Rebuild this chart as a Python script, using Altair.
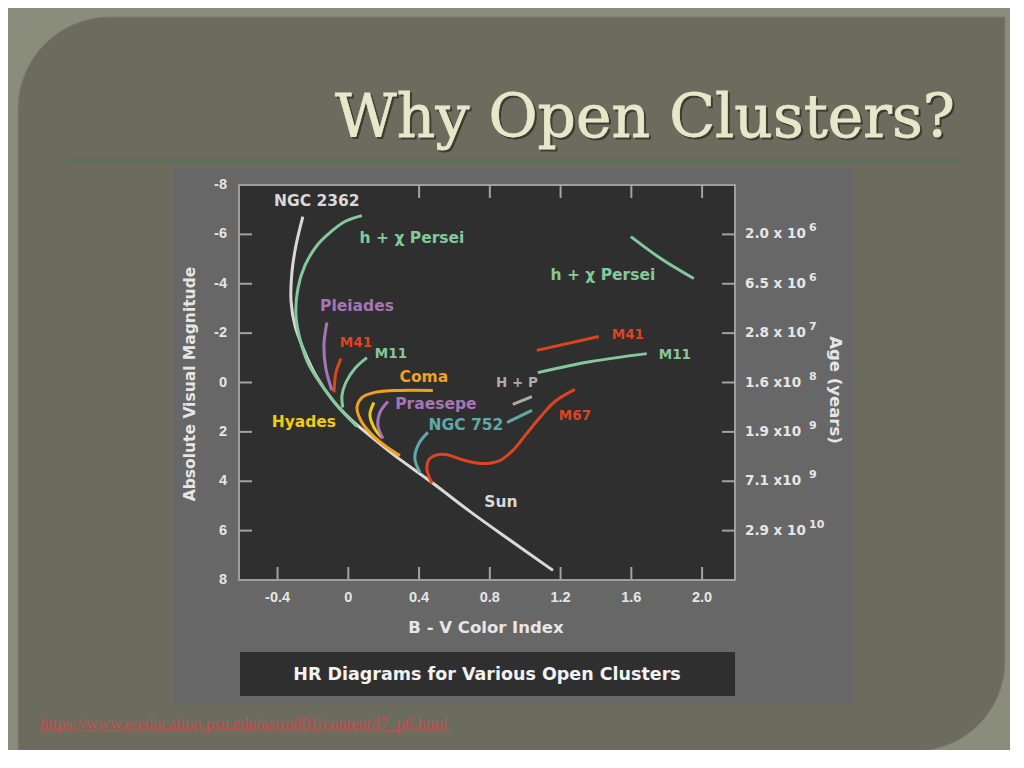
import altair as alt
import pandas as pd

# ---------------- data ----------------
X_TICKS = [-0.4, 0.0, 0.4, 0.8, 1.2, 1.6, 2.0]
X_TICK_LABELS = ["-0.4", "0", "0.4", "0.8", "1.2", "1.6", "2.0"]
X_TOP_TICKS = [0.4, 0.8, 1.2, 1.6, 2.0]
Y_TICKS = [-8, -6, -4, -2, 0, 2, 4, 6, 8]
Y_TICK_LABELS = ["-8", "-6", "-4", "-2", "0", "2", "4", "6", "8"]
Y_TICK_MARKS = [-6, -4, -2, 0, 2, 4, 6]

AGE_M = [-6, -4, -2, 0, 2, 4, 6]
AGE_BASE = ["2.0 x 10", "6.5 x 10", "2.8 x 10", "1.6  x10", "1.9  x10", "7.1 x10", "2.9 x 10"]
AGE_EXP = ["6", "6", "7", "8", "9", "9", "10"]

# curves: B-V colour index (v) and absolute visual magnitude (M)
MS_V = [-0.257, -0.296, -0.319, -0.324, -0.302, -0.251, -0.183, -0.087, 0.009, 0.122, 0.263, 0.473, 0.687, 0.925, 1.157]
MS_M = [-6.72, -5.55, -4.45, -3.32, -2.31, -1.30, -0.28, 0.73, 1.46, 2.15, 2.96, 4.05, 5.22, 6.44, 7.61]
HCP_V = [0.077, -0.019, -0.104, -0.177, -0.245, -0.285, -0.296, -0.274, -0.229, -0.161, -0.064, 0.049]
HCP_M = [-6.76, -6.52, -6.07, -5.55, -4.74, -3.81, -2.71, -1.78, -0.81, 0.0, 0.93, 1.78]
HCPG_V = [1.597, 1.775, 1.953]
HCPG_M = [-5.91, -4.98, -4.21]
PL_V = [-0.121, -0.138, -0.127, -0.093]
PL_M = [-2.43, -1.50, -0.57, 0.32]
M41_V = [-0.042, -0.070, -0.081]
M41_M = [-0.97, -0.40, 0.40]
M41G_V = [1.066, 1.416]
M41G_M = [-1.30, -1.86]
M11_V = [0.105, 0.037, -0.014, -0.036, -0.031]
M11_M = [-1.01, -0.57, 0.0, 0.53, 1.01]
M11G_V = [1.071, 1.365, 1.687]
M11G_M = [-0.40, -0.84, -1.17]
COMA_V = [0.478, 0.291, 0.150, 0.077, 0.049, 0.071, 0.133, 0.213, 0.292]
COMA_M = [0.32, 0.32, 0.40, 0.61, 1.01, 1.54, 2.11, 2.59, 2.96]
HY_V = [0.145, 0.122, 0.145, 0.190]
HY_M = [0.81, 1.30, 1.82, 2.23]
PR_V = [0.224, 0.179, 0.167, 0.196]
PR_M = [0.77, 1.21, 1.74, 2.27]
N752_V = [0.450, 0.399, 0.376, 0.405]
N752_M = [2.02, 2.47, 3.08, 3.64]
N752G_V = [0.897, 1.038]
N752G_M = [1.62, 1.13]
HP_V = [0.930, 1.038]
HP_M = [0.89, 0.57]
M67_V = [0.473, 0.444, 0.461, 0.535, 0.659, 0.761, 0.857, 0.930, 1.009, 1.083, 1.168, 1.281]
M67_M = [4.09, 3.48, 3.08, 2.91, 3.16, 3.28, 3.16, 2.75, 2.06, 1.42, 0.77, 0.28]

CLUSTERS = ["NGC 2362", "h + χ Persei", "Pleiades", "M41", "M11", "Coma",
            "Hyades", "Praesepe", "NGC 752", "H + P", "M67", "Sun"]
COLORS = ["#d9d9d9", "#84c99b", "#a675b7", "#dd4420", "#84c99b", "#f2a11e",
          "#f0cc10", "#a675b7", "#5fa8a9", "#ababab", "#dd4420", "#d9d9d9"]

SEGMENTS = [
    ("NGC 2362", MS_V, MS_M), ("h + χ Persei", HCP_V, HCP_M), ("h + χ Persei", HCPG_V, HCPG_M),
    ("Pleiades", PL_V, PL_M), ("M41", M41_V, M41_M), ("M41", M41G_V, M41G_M),
    ("M11", M11_V, M11_M), ("M11", M11G_V, M11G_M), ("Coma", COMA_V, COMA_M),
    ("Hyades", HY_V, HY_M), ("Praesepe", PR_V, PR_M), ("NGC 752", N752_V, N752_M),
    ("NGC 752", N752G_V, N752G_M), ("H + P", HP_V, HP_M), ("M67", M67_V, M67_M),
]

LABEL_BIG_TEXT = ["NGC 2362", "h + χ Persei", "h + χ Persei", "Pleiades", "Coma", "Hyades", "Praesepe", "NGC 752", "Sun"]
LABEL_BIG_V = [-0.178, 0.360, 1.439, 0.049, 0.427, -0.251, 0.495, 0.665, 0.863]
LABEL_BIG_M = [-7.37, -5.87, -4.37, -3.08, -0.24, 1.62, 0.89, 1.74, 4.86]
LABEL_SMALL_TEXT = ["M41", "M11", "H + P", "M67", "M41", "M11"]
LABEL_SMALL_V = [0.043, 0.241, 0.953, 1.281, 1.580, 1.846]
LABEL_SMALL_M = [-1.62, -1.17, 0.04, 1.34, -1.94, -1.13]

# ---------------- tables ----------------
rows = []
for sid, (name, vs, ms) in enumerate(SEGMENTS):
    for i, (v, m) in enumerate(zip(vs, ms)):
        rows.append({"seg": sid, "cluster": name, "i": i, "v": v, "M": m})
lines_df = pd.DataFrame(rows)
big_df = pd.DataFrame({"text": LABEL_BIG_TEXT, "cluster": LABEL_BIG_TEXT, "v": LABEL_BIG_V, "M": LABEL_BIG_M})
small_df = pd.DataFrame({"text": LABEL_SMALL_TEXT, "cluster": LABEL_SMALL_TEXT, "v": LABEL_SMALL_V, "M": LABEL_SMALL_M})
age_df = pd.DataFrame({"M": AGE_M, "base": AGE_BASE, "exp": AGE_EXP})
xt_df = pd.DataFrame({"v": X_TICKS, "label": X_TICK_LABELS})
xtt_df = pd.DataFrame({"v": X_TOP_TICKS})
yl_df = pd.DataFrame({"M": Y_TICKS, "label": Y_TICK_LABELS})
yt_df = pd.DataFrame({"M": Y_TICK_MARKS})
one = pd.DataFrame({"k": [0]})

W, H = 496, 395
xscale = alt.Scale(domain=[-0.618, 2.186], nice=False, zero=False)
yscale = alt.Scale(domain=[-8, 8], reverse=True, nice=False, zero=False)
cscale = alt.Scale(domain=CLUSTERS, range=COLORS)
LBL = "DejaVu Sans"
TICKF = "Liberation Sans"
TICKC = "#a2a2a2"
TXTC = "#e6e6e6"

def X(field="v"):
    return alt.X(f"{field}:Q", scale=xscale, axis=None)

def Y(field="M"):
    return alt.Y(f"{field}:Q", scale=yscale, axis=None)

def deco_rect(x, x2, y, y2, **kw):
    return alt.Chart(one).mark_rect(**kw).encode(
        x=alt.value(x), x2=alt.value(x2), y=alt.value(y), y2=alt.value(y2))

def deco_text(txt, x, y, **kw):
    return alt.Chart(one).mark_text(text=txt, **kw).encode(x=alt.value(x), y=alt.value(y))

slide = deco_rect(-221, 766, -168, 566, fill="#6b6c5e", stroke="#7b7c6e", strokeWidth=1,
                  cornerRadiusTopLeft=92, cornerRadiusBottomRight=90)
sep = alt.Chart(one).mark_rule(color="#53705a", strokeWidth=2).encode(
    x=alt.value(-173), x2=alt.value(723), y=alt.value(-25))
title_shadow = deco_text("Why Open Clusters?", 718, -46, font="DejaVu Serif", fontSize=60,
                         color="#2c2c24", opacity=0.75, align="right", baseline="alphabetic",
                         stroke="#2c2c24", strokeWidth=0.8)
title = deco_text("Why Open Clusters?", 716, -48, font="DejaVu Serif", fontSize=60,
                  color="#e9e7c9", align="right", baseline="alphabetic",
                  stroke="#e9e7c9", strokeWidth=0.8)
panel = deco_rect(-66, 615, -17, 519, fill="#676767")
plot_bg = deco_rect(0, W, 0, H, fill="#2f2f2f", stroke="#9e9e9e", strokeWidth=2)
cap_box = deco_rect(1, W, 467, 511, fill="#2f2f2f")
cap_text = deco_text("HR Diagrams for Various Open Clusters", 248, 490, font=LBL, fontWeight="bold",
                     fontSize=17.5, color="#f2f2f2", align="center", baseline="middle")
ytitle = deco_text("Absolute Visual Magnitude", -49, 199, font=LBL, fontWeight="bold", fontSize=15.5,
                   color=TXTC, align="center", baseline="middle", angle=270)
xtitle = deco_text("B - V Color Index", 247, 443, font=LBL, fontWeight="bold", fontSize=16.5,
                   color=TXTC, align="center", baseline="middle")
agetitle = deco_text("Age (years)", 596, 205, font=LBL, fontWeight="bold", fontSize=16.5,
                     color=TXTC, align="center", baseline="middle", angle=90)
url = deco_text("https://www.e-education.psu.edu/astro801/content/l7_p6.html", -199, 544,
                font="Liberation Serif", fontSize=16.5, color="#c5504e", align="left", baseline="alphabetic")
url_line = alt.Chart(one).mark_rule(color="#c5504e", strokeWidth=1).encode(
    x=alt.value(-199), x2=alt.value(211), y=alt.value(546))

tick_left = alt.Chart(yt_df).mark_rule(color=TICKC, strokeWidth=2).encode(
    y=Y(), x=alt.value(0), x2=alt.value(13))
tick_right = alt.Chart(yt_df).mark_rule(color=TICKC, strokeWidth=2).encode(
    y=Y(), x=alt.value(W - 13), x2=alt.value(W))
tick_bottom = alt.Chart(xt_df).mark_rule(color=TICKC, strokeWidth=2).encode(
    x=X(), y=alt.value(H - 13), y2=alt.value(H))
tick_top = alt.Chart(xtt_df).mark_rule(color=TICKC, strokeWidth=2).encode(
    x=X(), y=alt.value(0), y2=alt.value(13))

xlabels = alt.Chart(xt_df).mark_text(font=TICKF, fontWeight="bold", fontSize=14.5, color=TXTC,
                                     align="center", baseline="middle").encode(
    x=X(), y=alt.value(H + 18), text="label:N")
ylabels = alt.Chart(yl_df).mark_text(font=TICKF, fontWeight="bold", fontSize=14.5, color=TXTC,
                                     align="right", baseline="middle").encode(
    y=Y(), x=alt.value(-12), text="label:N")

curves = alt.Chart(lines_df).mark_line(strokeWidth=3, interpolate="catmull-rom").encode(
    x=X(), y=Y(),
    color=alt.Color("cluster:N", scale=cscale, legend=None),
    detail="seg:N",
    order="i:Q",
)

labels_big = alt.Chart(big_df).mark_text(font=LBL, fontWeight="bold", fontSize=15.5,
                                         align="center", baseline="middle").encode(
    x=X(), y=Y(), text="text:N", color=alt.Color("cluster:N", scale=cscale, legend=None))
labels_small = alt.Chart(small_df).mark_text(font=LBL, fontWeight="bold", fontSize=13.5,
                                             align="center", baseline="middle").encode(
    x=X(), y=Y(), text="text:N", color=alt.Color("cluster:N", scale=cscale, legend=None))

age_base = alt.Chart(age_df).mark_text(font=LBL, fontWeight="bold", fontSize=13.5, color=TXTC,
                                       align="left", baseline="middle").encode(
    y=Y(), x=alt.value(506), text="base:N")
age_exp = alt.Chart(age_df).mark_text(font=LBL, fontWeight="bold", fontSize=11, color=TXTC,
                                      align="left", baseline="middle", dy=-6).encode(
    y=Y(), x=alt.value(570), text="exp:N")

chart = alt.layer(
    slide, sep, title_shadow, title, panel, plot_bg, cap_box, cap_text,
    ytitle, xtitle, agetitle, url, url_line,
    tick_left, tick_right, tick_bottom, tick_top, xlabels, ylabels,
    curves, labels_big, labels_small, age_base, age_exp,
).properties(
    width=W, height=H,
    autosize=alt.AutoSizeParams(type="none"),
    padding={"left": 231, "top": 177, "right": 275, "bottom": 170},
).configure(background="#8a8c7c").configure_view(stroke="transparent")

chart.save("out.html", embed_options={"renderer": "svg", "actions": False})
